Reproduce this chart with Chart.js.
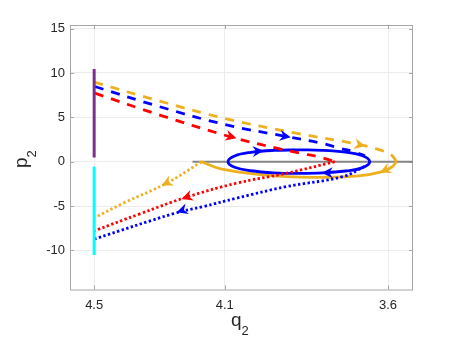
<!DOCTYPE html>
<html>
<head>
<meta charset="utf-8">
<script src="https://cdn.jsdelivr.net/npm/chart.js@4.4.0/dist/chart.umd.min.js"></script>
<style>
    html, body { margin: 0; padding: 0; background: #fff; }
    #wrap { width: 457px; height: 343px; }
</style>
</head>
<body>
<div id="wrap"><canvas id="phase" width="457" height="343"></canvas></div>
<script>
// 坐标轴刻度
const xTicks = [4.5, 4.1, 3.6];
const yTicks = [-10, -5, 0, 5, 10, 15];

// 橙色轨迹
const orangeDashQ = [4.500, 4.299, 4.095, 3.886, 3.682, 3.626, 3.590, 3.574];
const orangeDashP = [8.96, 6.82, 4.83, 3.25, 1.89, 1.33, 0.77, 0.01];
const orangeSolidQ = [3.574, 3.588, 3.620, 3.690, 3.809, 3.911, 4.013, 4.115, 4.171];
const orangeSolidP = [0.0, -0.60, -1.15, -1.60, -1.76, -1.68, -1.38, -0.78, 0.0];
const orangeDotQ = [4.171, 4.278, 4.411, 4.498];
const orangeDotP = [0.0, -2.42, -4.68, -6.30];

// 红色轨迹
const redDashQ = [4.498, 4.299, 4.085, 3.941, 3.870, 3.809, 3.763];
const redDashP = [7.72, 5.25, 2.83, 1.52, 0.96, 0.51, 0.0];
const redDotQ = [3.763, 3.911, 4.064, 4.217, 4.360, 4.498];
const redDotP = [0.0, -1.30, -2.42, -4.00, -5.88, -7.77];

// 蓝色轨迹
const blueDashQ = [4.498, 4.299, 4.095, 3.911, 3.809, 3.748, 3.702, 3.671];
const blueDashP = [8.47, 6.19, 4.15, 2.83, 2.12, 1.52, 1.10, 0.65];
const blueLoopQ = [3.873, 3.80, 3.73, 3.68, 3.656, 3.68, 3.73, 3.80, 3.873, 3.95, 4.02, 4.07, 4.090, 4.07, 4.02, 3.95, 3.873];
const blueLoopP = [1.33, 1.28, 1.07, 0.70, 0.0, -0.70, -1.05, -1.26, -1.31, -1.25, -1.02, -0.62, 0.0, 0.64, 1.05, 1.27, 1.33];
const blueDotQ = [3.672, 3.738, 3.911, 4.064, 4.166, 4.253, 4.498];
const blueDotP = [-0.55, -1.68, -2.81, -4.11, -5.06, -5.81, -8.70];

// 边界线
const purpleQ = [4.5, 4.5];
const purpleP = [10.43, 0.46];
const cyanQ = [4.5, 4.5];
const cyanP = [-0.55, -10.5];
const grayQ = [4.199, 3.5235];
const grayP = [0, 0];

// 箭头 (箭尖, 箭尾方向点)
const arrowSeries = ['orange', 'red', 'blue', 'blue', 'blue', 'orange', 'orange', 'red', 'blue'];
const arrowTipQ = [3.670, 4.064, 3.898, 3.981, 3.803, 3.625, 4.293, 4.232, 4.247];
const arrowTipP = [1.75, 2.65, 2.74, 1.22, -1.26, -1.21, -2.67, -4.19, -5.69];
const arrowBackQ = [3.720, 4.095, 3.929, 4.010, 3.770, 3.584, 4.262, 4.201, 4.216];
const arrowBackP = [2.20, 2.97, 2.95, 1.15, -1.25, -0.556, -2.10, -3.80, -5.32];

const colors = {
    orange: '#EDB120',
    red: '#FF0000',
    blue: '#0000FF',
    purple: '#7E2F8E',
    cyan: '#00FFFF',
    gray: '#858585'
};

const FONT = "'Liberation Sans', Arial, sans-serif";

function pts(qs, ps) {
    return qs.map((q, i) => ({ x: q, y: ps[i] }));
}

function line(qs, ps, color, style, width) {
    let dash = [];
    if (style === 'dash') dash = [9, 8];
    if (style === 'dot') dash = [2.4, 2.4];
    return {
        data: pts(qs, ps),
        showLine: true,
        borderColor: color,
        borderWidth: width || 2.8,
        borderDash: dash,
        borderCapStyle: 'butt',
        pointRadius: 0,
        fill: false,
        tension: 0.4
    };
}

// 外框 + 内向刻度
const boxPlugin = {
    id: 'box',
    beforeDatasetsDraw(chart) {
        const { ctx, chartArea: a, scales } = chart;
        ctx.save();
        ctx.strokeStyle = '#a6a6a6';
        ctx.lineWidth = 1;
        ctx.strokeRect(a.left + 0.5, a.top + 0.5, a.right - a.left - 1, a.bottom - a.top);
        ctx.beginPath();
        yTicks.forEach(v => {
            const y = Math.round(scales.y.getPixelForValue(v)) + 0.5;
            ctx.moveTo(a.left, y); ctx.lineTo(a.left + 4, y);
            ctx.moveTo(a.right, y); ctx.lineTo(a.right - 4, y);
        });
        xTicks.forEach(v => {
            const x = Math.round(scales.x.getPixelForValue(v)) + 0.5;
            ctx.moveTo(x, a.bottom); ctx.lineTo(x, a.bottom - 4);
            ctx.moveTo(x, a.top); ctx.lineTo(x, a.top + 4);
        });
        ctx.stroke();
        ctx.restore();
    }
};

// 方向箭头
const arrowPlugin = {
    id: 'arrows',
    afterDatasetsDraw(chart) {
        const { ctx, scales } = chart;
        ctx.save();
        arrowSeries.forEach((s, i) => {
            const tx = scales.x.getPixelForValue(arrowTipQ[i]);
            const ty = scales.y.getPixelForValue(arrowTipP[i]);
            const bx = scales.x.getPixelForValue(arrowBackQ[i]);
            const by = scales.y.getPixelForValue(arrowBackP[i]);
            const ang = Math.atan2(ty - by, tx - bx);
            ctx.save();
            ctx.translate(tx, ty);
            ctx.rotate(ang);
            ctx.fillStyle = colors[s];
            ctx.beginPath();
            ctx.moveTo(0, 0);
            ctx.lineTo(-11, -5.5);
            ctx.lineTo(-7.5, 0);
            ctx.lineTo(-11, 5.5);
            ctx.closePath();
            ctx.fill();
            ctx.restore();
        });
        ctx.restore();
    }
};

// 坐标轴标题 (带下标)
const titlePlugin = {
    id: 'axisTitles',
    afterDraw(chart) {
        const ctx = chart.ctx;
        ctx.save();
        ctx.fillStyle = '#262626';
        ctx.textBaseline = 'alphabetic';
        ctx.textAlign = 'left';
        // q2
        ctx.font = '19px ' + FONT;
        ctx.fillText('q', 231, 326);
        const qw = ctx.measureText('q').width;
        ctx.font = '13px ' + FONT;
        ctx.fillText('2', 231 + qw, 335);
        // p2
        ctx.translate(27, 168);
        ctx.rotate(-Math.PI / 2);
        ctx.font = '19px ' + FONT;
        ctx.fillText('p', 0, 0);
        const pw = ctx.measureText('p').width;
        ctx.font = '13px ' + FONT;
        ctx.fillText('2', pw, 9);
        ctx.restore();
    }
};

new Chart(document.getElementById('phase'), {
    type: 'scatter',
    data: {
        datasets: [
            line(purpleQ, purpleP, colors.purple, 'solid', 3),
            line(cyanQ, cyanP, colors.cyan, 'solid', 3),
            line(orangeDashQ, orangeDashP, colors.orange, 'dash'),
            line(blueDashQ, blueDashP, colors.blue, 'dash'),
            line(redDashQ, redDashP, colors.red, 'dash'),
            line(orangeDotQ, orangeDotP, colors.orange, 'dot'),
            line(redDotQ, redDotP, colors.red, 'dot'),
            line(blueDotQ, blueDotP, colors.blue, 'dot'),
            line(blueLoopQ, blueLoopP, colors.blue, 'solid'),
            line(orangeSolidQ, orangeSolidP, colors.orange, 'solid'),
            line(grayQ, grayP, colors.gray, 'solid', 2)
        ]
    },
    options: {
        responsive: false,
        animation: false,
        layout: { padding: { top: 25, right: 44, left: 0, bottom: 0 } },
        plugins: {
            legend: { display: false },
            tooltip: { enabled: false }
        },
        scales: {
            x: {
                type: 'linear',
                reverse: true,
                min: 3.5235,
                max: 4.574,
                afterBuildTicks: s => { s.ticks = xTicks.map(v => ({ value: v })); },
                afterFit: s => { s.height = 53.5; },
                grid: { color: '#ececec', drawTicks: false },
                border: { display: false },
                ticks: {
                    autoSkip: false,
                    maxRotation: 0,
                    padding: 8,
                    color: '#262626',
                    font: { family: FONT, size: 13 },
                    callback: v => String(v)
                }
            },
            y: {
                type: 'linear',
                min: -14.4,
                max: 15.4,
                afterBuildTicks: s => { s.ticks = yTicks.map(v => ({ value: v })); },
                afterFit: s => { s.width = 70; },
                grid: { color: '#ececec', drawTicks: false },
                border: { display: false },
                ticks: {
                    autoSkip: false,
                    padding: 5,
                    color: '#262626',
                    font: { family: FONT, size: 13 },
                    callback: v => String(v)
                }
            }
        }
    },
    plugins: [boxPlugin, arrowPlugin, titlePlugin]
});
</script>
</body>
</html>
